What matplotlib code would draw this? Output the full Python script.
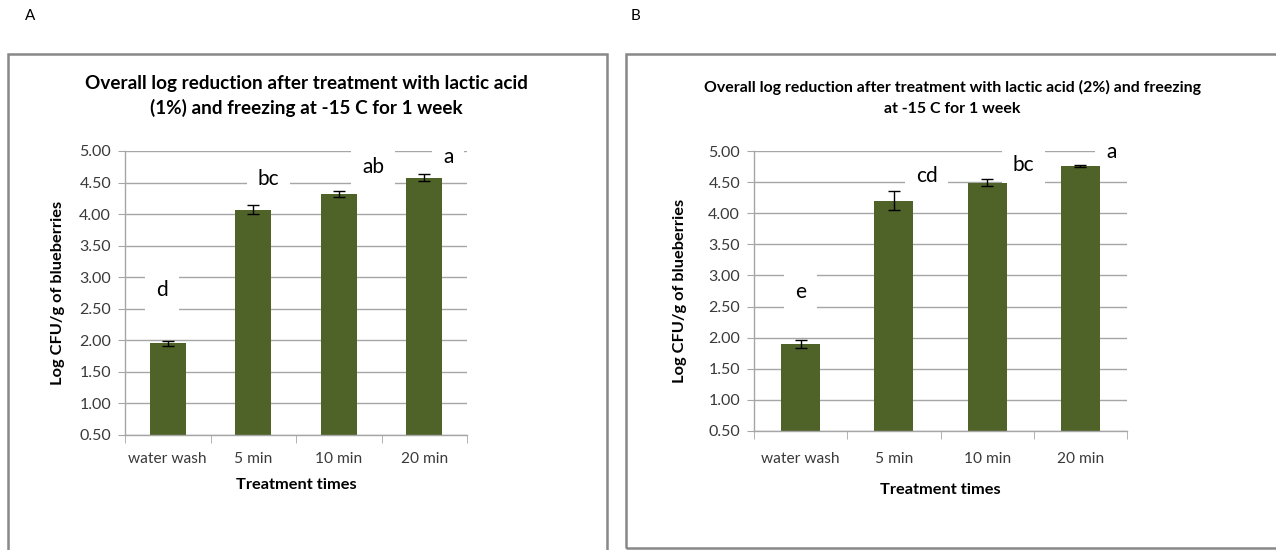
import matplotlib
matplotlib.use("Agg")
import matplotlib.pyplot as plt
from matplotlib.patches import Rectangle

plt.rcParams['font.family'] = ['Lato', 'DejaVu Sans']

categories = ["water wash", "5 min", "10 min", "20 min"]

values_a = [1.95, 4.07, 4.32, 4.58]
errors_a = [0.04, 0.07, 0.05, 0.05]
letters_a = ["d", "bc", "ab", "a"]
letter_y_a = [2.80, 4.55, 4.75, 4.90]
letter_dx_a = [-0.07, 0.18, 0.40, 0.28]

values_b = [1.90, 4.20, 4.49, 4.76]
errors_b = [0.06, 0.15, 0.06, 0.01]
letters_b = ["e", "cd", "bc", "a"]
letter_y_b = [2.73, 4.60, 4.77, 4.98]
letter_dx_b = [0.0, 0.35, 0.39, 0.33]

yticks = [0.5, 1.0, 1.5, 2.0, 2.5, 3.0, 3.5, 4.0, 4.5, 5.0]

title_a = "Overall log reduction after treatment with lactic acid\n(1%) and freezing at -15 C for 1 week"
title_b = "Overall log reduction after treatment with lactic acid (2%) and freezing\nat -15 C for 1 week"

W, H = 1276, 550
fig = plt.figure(figsize=(W / 100, H / 100), dpi=100)

BAR = "#4F6228"
GRID = "#A6A6A6"
TXT = "#3A3A3A"

# panel frames
fig.patches.append(Rectangle((8 / W, -0.1), (607 - 8) / W, (H - 54) / H + 0.1,
                             transform=fig.transFigure, fill=False,
                             edgecolor="#888888", lw=1.8))
fig.patches.append(Rectangle((626 / W, (H - 548) / H), 0.7, (548 - 54) / H,
                             transform=fig.transFigure, fill=False,
                             edgecolor="#888888", lw=1.8))

fig.text(30 / W, 1 - 16 / H, "A", fontsize=11, ha="center", va="center")
fig.text(636 / W, 1 - 16 / H, "B", fontsize=11, ha="center", va="center")


def panel(rect, values, errors, letters, ly, ldx, title, title_xy, title_fs,
          title_ls, ylab_x, xpad, xlabpad):
    l, t, r, b = rect
    ax = fig.add_axes([l / W, (H - b) / H, (r - l) / W, (b - t) / H])
    x = list(range(len(categories)))
    ax.bar(x, values, width=0.42, color=BAR, zorder=2)
    ax.errorbar(x, values, yerr=errors, fmt="none", ecolor="black",
                elinewidth=1.0, capsize=4, capthick=1.0, zorder=3)
    ax.set_xlim(-0.5, len(categories) - 0.5)
    ax.set_ylim(0.5, 5.0)
    ax.set_yticks(yticks)
    ax.set_yticklabels([f"{v:.2f}" for v in yticks], fontsize=11.5, color=TXT)
    ax.set_xticks(x)
    ax.set_xticklabels(categories, fontsize=11.2, color=TXT)
    ax.tick_params(axis="x", length=0, pad=xpad)
    ax.set_xticks([i - 0.5 for i in range(len(categories) + 1)], minor=True)
    ax.tick_params(axis="x", which="minor", length=6, color=GRID, direction="out")
    ax.tick_params(axis="y", length=5, color=GRID, direction="out", pad=5)
    ax.grid(axis="y", color=GRID, lw=1.0, zorder=0)
    ax.set_axisbelow(True)
    for s in ["top", "right"]:
        ax.spines[s].set_visible(False)
    for s in ["left", "bottom"]:
        ax.spines[s].set_color(GRID)
        ax.spines[s].set_linewidth(1.0)
    ax.set_xlabel("Treatment times", fontsize=11.8, fontweight="bold", labelpad=xlabpad)
    ax.set_ylabel("Log CFU/g of blueberries", fontsize=11.8, fontweight="bold")
    ax.yaxis.set_label_coords((ylab_x - l) / (r - l), 0.5)
    for i, (lt, yy, dx) in enumerate(zip(letters, ly, ldx)):
        ax.text(i + dx, yy, lt, fontsize=15, ha="center", va="center", zorder=1.5,
                bbox=dict(facecolor="white", edgecolor="none", pad=8), clip_on=False)
    fig.text(title_xy[0] / W, 1 - title_xy[1] / H, title, fontsize=title_fs,
             fontweight="bold", ha="center", va="center", linespacing=title_ls)
    return ax


panel((125, 151, 467, 435), values_a, errors_a, letters_a, letter_y_a, letter_dx_a,
      title_a, (306, 96), 13.6, 1.4, 65, 12, 9)
panel((754, 151, 1127, 431), values_b, errors_b, letters_b, letter_y_b, letter_dx_b,
      title_b, (952, 98), 11.4, 1.6, 687, 15, 12)

fig.savefig("out.png", dpi=100)
